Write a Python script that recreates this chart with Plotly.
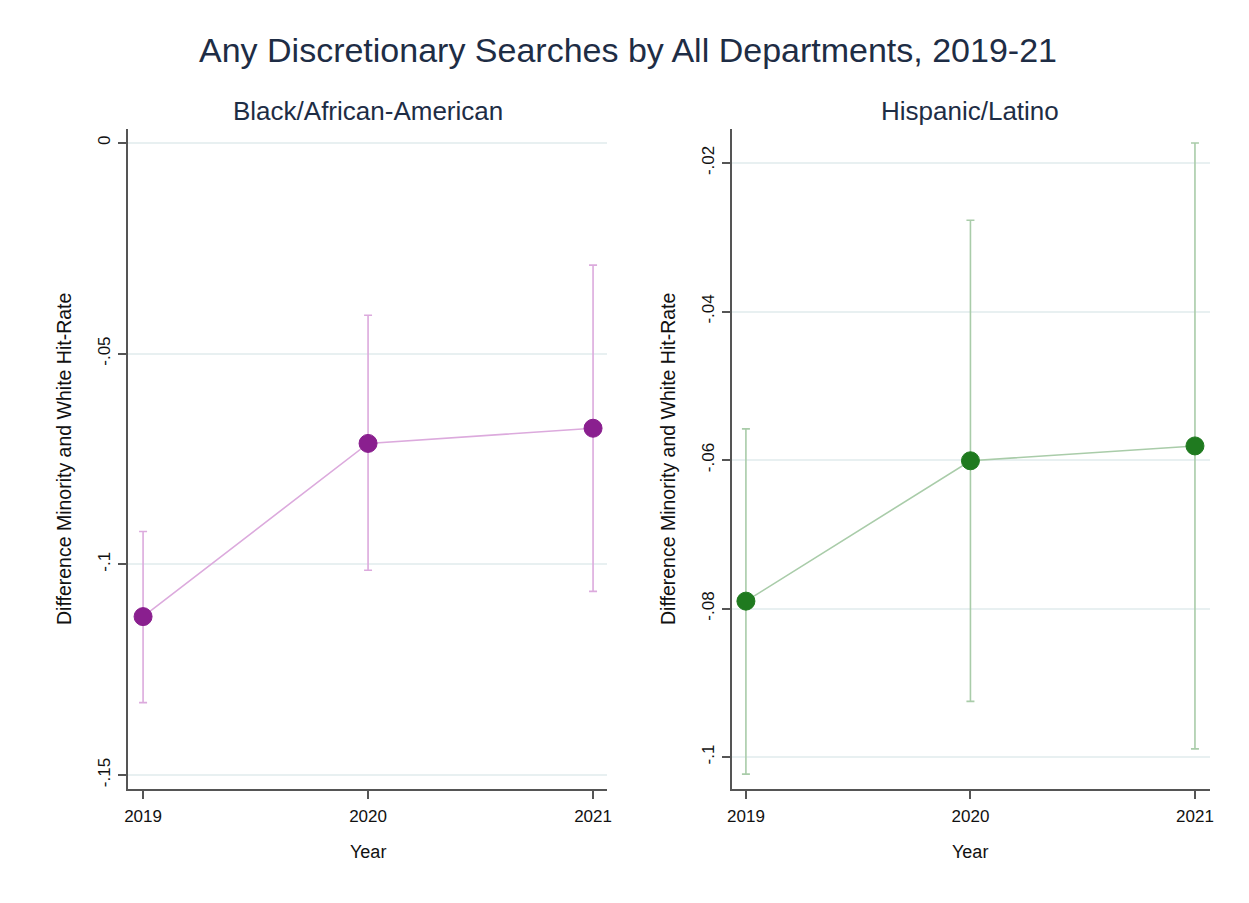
import plotly.graph_objects as go

years = [2019, 2020, 2021]
year_labels = ["2019", "2020", "2021"]

black_est = [-0.1124, -0.0713, -0.0677]
black_hi = [-0.0922, -0.0409, -0.0290]
black_lo = [-0.1328, -0.1014, -0.1064]

hisp_est = [-0.0790, -0.0601, -0.0581]
hisp_hi = [-0.0558, -0.0277, -0.0173]
hisp_lo = [-0.1023, -0.0925, -0.0989]

left_ticks = [0, -0.05, -0.1, -0.15]
left_ticktext = ["0", "-.05", "-.1", "-.15"]
right_ticks = [-0.02, -0.04, -0.06, -0.08, -0.1]
right_ticktext = ["-.02", "-.04", "-.06", "-.08", "-.1"]

FONT = "Liberation Sans, Arial, sans-serif"
W, H = 1233, 887
OFF = 8  # page body margin


def px(xr):
    return (xr - OFF) / W


def py(yr):
    return 1 - (yr - OFF) / H


fig = go.Figure()


def add_series(est, hi, lo, xa, ya, mcol, lcol):
    plus = [h - e for h, e in zip(hi, est)]
    minus = [e - l for e, l in zip(est, lo)]
    fig.add_trace(go.Scatter(
        x=years, y=est, xaxis=xa, yaxis=ya, mode="lines+markers",
        line=dict(color=lcol, width=1.6),
        marker=dict(color=mcol, size=18, line=dict(color=mcol, width=1)),
        error_y=dict(type="data", symmetric=False, array=plus, arrayminus=minus,
                     color=lcol, thickness=1.6, width=4),
        showlegend=False, hoverinfo="x+y"))


add_series(black_est, black_hi, black_lo, "x", "y", "#8a1f8f", "#dcaadd")
add_series(hisp_est, hisp_hi, hisp_lo, "x2", "y2", "#1f7a1f", "#a9cca9")

axis_common = dict(showline=True, linecolor="#555555", linewidth=2, ticks="outside",
                   ticklen=8, tickcolor="#555555", tickwidth=2, automargin=False,
                   zeroline=False)
xfont = dict(family=FONT, size=17, color="#111111")
yfont = dict(family=FONT, size=17, color="#111111")

fig.update_layout(
    width=W, height=H,
    margin=dict(l=0, r=0, t=0, b=0),
    paper_bgcolor="white", plot_bgcolor="white",
    xaxis=dict(domain=[px(128), px(607)], range=[2018.933, 2021.062],
               tickvals=years, ticktext=year_labels, showgrid=False, anchor="y",
               tickfont=xfont, ticklabelstandoff=3, **axis_common),
    yaxis=dict(domain=[py(789), py(129)], range=[-0.1533, 0.0033],
               tickvals=left_ticks, ticktext=left_ticktext, tickangle=-90,
               tickfont=yfont, ticklabelstandoff=1,
               showgrid=True, gridcolor="#e8f0f1", gridwidth=1.5, anchor="x", **axis_common),
    xaxis2=dict(domain=[px(732), px(1210)], range=[2018.938, 2021.067],
                tickvals=years, ticktext=year_labels, showgrid=False, anchor="y2",
                tickfont=xfont, ticklabelstandoff=3, **axis_common),
    yaxis2=dict(domain=[py(789), py(129)], range=[-0.1043, -0.01542],
                tickvals=right_ticks, ticktext=right_ticktext, tickangle=-90,
                tickfont=yfont, ticklabelstandoff=1,
                showgrid=True, gridcolor="#e8f0f1", gridwidth=1.5, anchor="x2", **axis_common),
)

title_col = "#1e2d45"
ann = [
    dict(text="Any Discretionary Searches by All Departments, 2019-21", x=px(628), y=py(50),
         font=dict(family=FONT, size=34, color=title_col)),
    dict(text="Black/African-American", x=px(368), y=py(111),
         font=dict(family=FONT, size=26, color=title_col)),
    dict(text="Hispanic/Latino", x=px(970), y=py(111),
         font=dict(family=FONT, size=26, color=title_col)),
    dict(text="Year", x=px(368), y=py(852),
         font=dict(family=FONT, size=18, color="#111111")),
    dict(text="Year", x=px(970), y=py(852),
         font=dict(family=FONT, size=18, color="#111111")),
    dict(text="Difference Minority and White Hit-Rate", x=px(64), y=py(459), textangle=-90,
         font=dict(family=FONT, size=19.5, color="#111111")),
    dict(text="Difference Minority and White Hit-Rate", x=px(668), y=py(459), textangle=-90,
         font=dict(family=FONT, size=19.5, color="#111111")),
]
fig.update_layout(annotations=[dict(xref="paper", yref="paper", showarrow=False,
                                    xanchor="center", yanchor="middle", **a) for a in ann])

fig.write_html("out.html")
